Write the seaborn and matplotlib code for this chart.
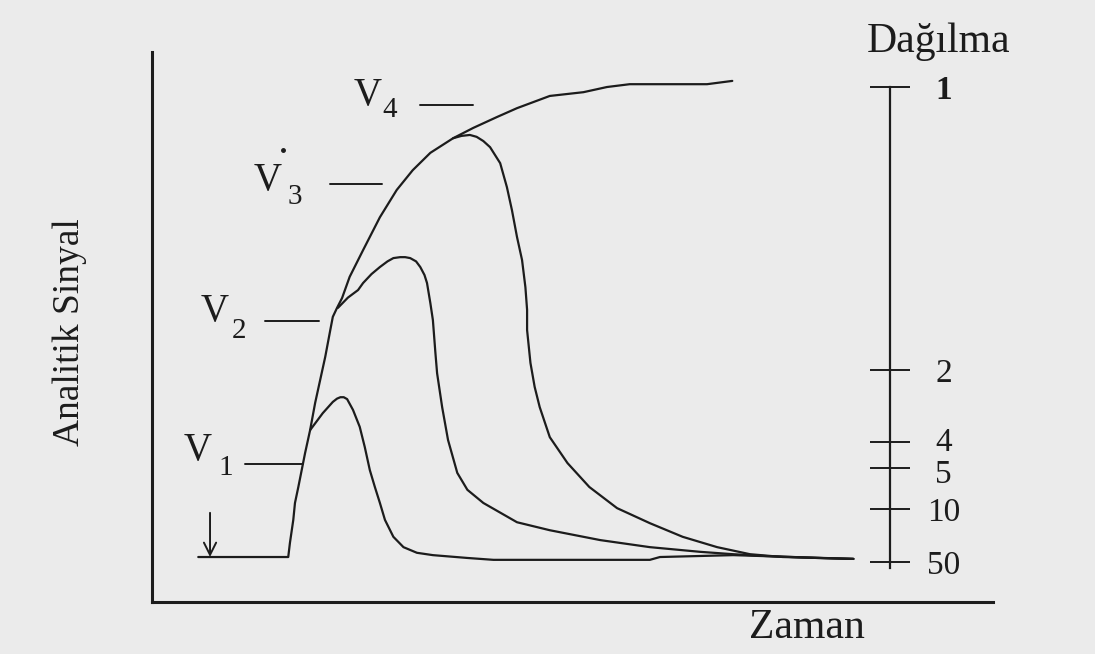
import matplotlib
matplotlib.use("Agg")
import matplotlib.pyplot as plt
from matplotlib.transforms import ScaledTranslation
import numpy as np
import pandas as pd
import seaborn as sns

# Time axis (arbitrary units) and analytical signal (fraction of undispersed level)
envelope_t = [5.5, 16.2, 16.4, 16.8, 17.0, 17.4, 17.8, 18.2, 18.8, 19.4, 20.0, 20.6,
              21.2, 21.5, 22.0, 22.6, 23.5, 25.1, 27.1, 29.1, 31.0, 33.1, 35.8, 38.2,
              41.0, 43.4, 47.3, 51.3, 54.1, 56.8, 66.0, 69.0]
envelope_s = [0.0, 0.0, 0.030, 0.079, 0.115, 0.149, 0.185, 0.221, 0.270, 0.328, 0.377, 0.426,
              0.483, 0.511, 0.530, 0.551, 0.596, 0.653, 0.723, 0.781, 0.823, 0.860, 0.891, 0.913,
              0.936, 0.955, 0.981, 0.989, 1.000, 1.006, 1.006, 1.013]

v1_t = [18.8, 20.3, 21.5, 22.0, 22.4, 22.8, 23.2, 23.9, 24.7, 25.3, 25.9, 26.5, 27.1, 27.7,
        28.7, 29.9, 31.5, 33.4, 37.5, 40.6, 59.2, 60.4, 69.1, 83.4]
v1_s = [0.270, 0.306, 0.330, 0.337, 0.340, 0.340, 0.336, 0.313, 0.277, 0.234, 0.185, 0.149,
        0.115, 0.079, 0.043, 0.021, 0.009, 0.004, -0.002, -0.006, -0.006, 0.0, 0.004, -0.004]

v2_t = [22.1, 23.3, 24.5, 25.1, 26.1, 27.1, 28.0, 28.7, 29.5, 30.1, 30.7, 31.4, 31.9, 32.4,
        32.7, 33.1, 33.4, 33.7, 33.9, 34.5, 35.2, 36.3, 37.5, 39.4, 43.4, 47.3, 53.3, 59.2,
        65.2, 69.1, 73.1, 79.1, 83.4]
v2_s = [0.530, 0.552, 0.568, 0.583, 0.602, 0.617, 0.629, 0.636, 0.638, 0.638, 0.636, 0.629,
        0.617, 0.600, 0.583, 0.540, 0.504, 0.434, 0.391, 0.319, 0.249, 0.179, 0.143, 0.115,
        0.074, 0.057, 0.036, 0.021, 0.011, 0.006, 0.002, -0.002, -0.004]

v3_t = [35.8, 36.8, 37.8, 38.6, 39.4, 40.2, 41.4, 42.2, 42.8, 43.4, 44.0, 44.4, 44.6, 44.6,
        45.0, 45.5, 46.1, 47.3, 49.4, 52.0, 55.3, 59.2, 63.1, 67.2, 71.1, 75.0, 83.4]
v3_s = [0.891, 0.896, 0.898, 0.894, 0.885, 0.872, 0.838, 0.787, 0.738, 0.681, 0.632, 0.574,
        0.526, 0.483, 0.413, 0.362, 0.319, 0.255, 0.200, 0.149, 0.104, 0.072, 0.043, 0.021,
        0.006, 0.0, -0.004]

# Dispersion scale on the right
disp_levels = [1.0, 0.398, 0.245, 0.189, 0.102, -0.011]
disp_labels = ["1", "2", "4", "5", "10", "50"]
disp_label_shift_px = [0, 0, 3, -3, 0, 0]

# Volume labels: subscript, text anchor, subscript anchor, leader line (t0, t1, s)
vol_names = ["4", "3", "2", "1"]
vol_text_pos = [(25.6, 0.981), (13.8, 0.802), (7.5, 0.523), (5.4, 0.226)]
vol_sub_pos = [(28.3, 0.951), (17.0, 0.766), (10.3, 0.481), (8.8, 0.189)]
vol_leaders = [(31.9, 38.2, 0.962), (21.2, 27.4, 0.794), (13.4, 19.9, 0.502), (11.1, 18.0, 0.198)]

injection_t = 6.9
injection_top = 0.094

frames = []
for name, t, s in [("V4", envelope_t, envelope_s), ("V1", v1_t, v1_s),
                   ("V2", v2_t, v2_s), ("V3", v3_t, v3_s)]:
    frames.append(pd.DataFrame({"t": t, "s": s, "curve": name}))
df = pd.concat(frames, ignore_index=True)

sns.set_theme(style="white")
plt.rcParams["font.family"] = ["Liberation Serif", "DejaVu Serif"]

paper = "#ebebeb"
ink = "#1c1c1c"

fig = plt.figure(figsize=(10.95, 6.54), dpi=100, facecolor=paper)
ax = fig.add_axes([152 / 1095, 52 / 654, 841 / 1095, 550 / 654])
ax.set_facecolor(paper)

for name, sub in df.groupby("curve", sort=False):
    sns.lineplot(data=sub, x="t", y="s", sort=False, estimator=None,
                 color=ink, linewidth=1.6, ax=ax)

ax.set_xlim(0, 100)
ax.set_ylim(-0.0957, 1.0745)
ax.set_xticks([])
ax.set_yticks([])
ax.set_xlabel("")
ax.set_ylabel("")
for side in ["top", "right"]:
    ax.spines[side].set_visible(False)
for side in ["left", "bottom"]:
    ax.spines[side].set_color(ink)
    ax.spines[side].set_linewidth(2.2)

# Injection marker
ax.annotate("", xy=(injection_t, 0.0), xytext=(injection_t, injection_top),
            arrowprops=dict(arrowstyle="->", color=ink, lw=1.4, mutation_scale=22,
                            shrinkA=0, shrinkB=0))

# Volume labels with leader lines
for name, tp, sp, (t0, t1, ls) in zip(vol_names, vol_text_pos, vol_sub_pos, vol_leaders):
    ax.text(tp[0], tp[1], "V", fontsize=28, color=ink, ha="center", va="center")
    ax.text(sp[0], sp[1], name, fontsize=21, color=ink, ha="center", va="center")
    ax.plot([t0, t1], [ls, ls], color=ink, linewidth=1.4)
ax.plot([15.6], [0.866], marker="o", markersize=2.5, color=ink)

# Axis titles
fig.text(70 / 1095, 1 - 332 / 654, "Analitik Sinyal", rotation=90, fontsize=27,
         color=ink, ha="center", va="center")
fig.text(807 / 1095, 1 - 628 / 654, "Zaman", fontsize=30, color=ink,
         ha="center", va="center")
fig.text(939 / 1095, 1 - 42 / 654, "Dağılma", fontsize=30, color=ink,
         ha="center", va="center")

# Dispersion scale
ax2 = ax.twinx()
ax2.set_ylim(ax.get_ylim())
ax2.patch.set_visible(False)
for side in ["top", "left", "bottom"]:
    ax2.spines[side].set_visible(False)
ax2.spines["right"].set_position(("axes", (890 - 152) / 841))
ax2.spines["right"].set_bounds(-0.023, 1.0)
ax2.spines["right"].set_color(ink)
ax2.spines["right"].set_linewidth(1.6)
ax2.set_yticks(disp_levels, labels=disp_labels)
ax2.tick_params(axis="y", which="major", direction="inout", length=29, width=1.4,
                color=ink, labelcolor=ink, labelsize=24, pad=24, right=True, left=False)
for lbl, shift in zip(ax2.get_yticklabels(), disp_label_shift_px):
    lbl.set_horizontalalignment("center")
    if shift:
        lbl.set_transform(lbl.get_transform() +
                          ScaledTranslation(0, shift / 100, fig.dpi_scale_trans))
ax2.get_yticklabels()[0].set_fontweight("bold")

fig.savefig("out.png", dpi=100, facecolor=paper)
